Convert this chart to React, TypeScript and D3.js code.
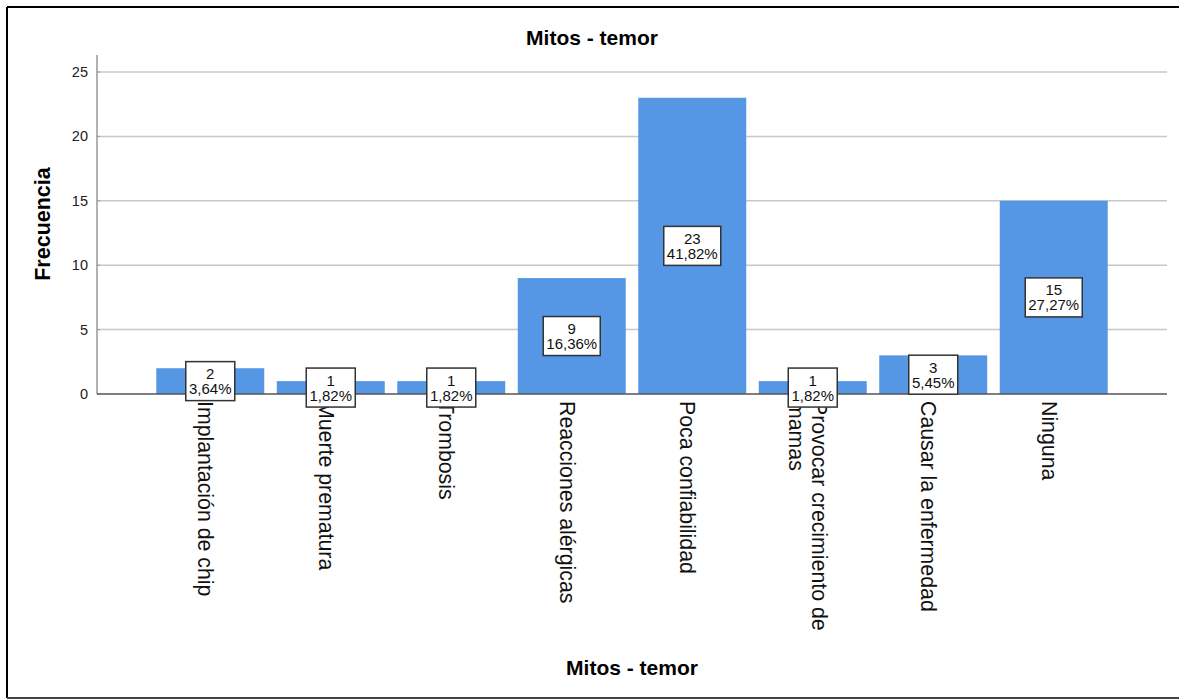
import React from "react";
import * as d3 from "d3";

const categories: string[][] = [
  ["Implantación de chip"],
  ["Muerte prematura"],
  ["Trombosis"],
  ["Reacciones alérgicas"],
  ["Poca confiabilidad"],
  ["Provocar crecimiento de", "mamas"],
  ["Causar la enfermedad"],
  ["Ninguna"],
];
const counts: number[] = [2, 1, 1, 9, 23, 1, 3, 15];
const percents: string[] = ["3,64%", "1,82%", "1,82%", "16,36%", "41,82%", "1,82%", "5,45%", "27,27%"];
const yTicks: number[] = [0, 5, 10, 15, 20, 25];
const title = "Mitos - temor";
const xTitle = "Mitos - temor";
const yTitle = "Frecuencia";

const W = 1179;
const H = 699;
const axisLeft = 97;
const axisRight = 1167;
const y0 = 394;
const y25 = 72;
const axisTop = 55;
const FONT = "'Liberation Sans', Arial, sans-serif";

export default function App() {
  const x = d3
    .scaleBand<number>()
    .domain(d3.range(categories.length))
    .range([axisLeft, axisRight])
    .paddingInner(0.104)
    .paddingOuter(0.492);
  const y = d3.scaleLinear().domain([0, 25]).range([y0, y25]);

  return (
    <svg
      width={W}
      height={H}
      style={{ position: "absolute", left: 0, top: 0, background: "#fff" }}
      fontFamily={FONT}
    >
      <rect x={0} y={0} width={W} height={H} fill="#fff" />
      {/* frame */}
      <line x1={7} y1={7} x2={W} y2={7} stroke="#000" strokeWidth={2} />
      <line x1={7} y1={7} x2={7} y2={698} stroke="#000" strokeWidth={2} />
      <line x1={7} y1={698} x2={W} y2={698} stroke="#444" strokeWidth={2} />

      <text x={592} y={45} textAnchor="middle" fontWeight="bold" fontSize={21} fill="#000">
        {title}
      </text>

      {/* gridlines */}
      {yTicks
        .filter((t) => t > 0)
        .map((t) => (
          <line
            key={"g" + t}
            x1={axisLeft}
            x2={axisRight}
            y1={y(t)}
            y2={y(t)}
            stroke="#c8c8c8"
            strokeWidth={1.5}
          />
        ))}

      {/* y ticks labels */}
      {yTicks.map((t) => (
        <g key={"t" + t}>
          <line x1={axisLeft} x2={axisLeft + 3} y1={y(t)} y2={y(t)} stroke="#999" strokeWidth={1} />
          <text x={88} y={y(t)} dy="0.35em" textAnchor="end" fontSize={14.5} fill="#222">
            {t}
          </text>
        </g>
      ))}

      {/* bars */}
      {counts.map((c, i) => (
        <rect
          key={"b" + i}
          x={x(i)!}
          y={y(c)}
          width={x.bandwidth()}
          height={y(0) - y(c)}
          fill="#5596e5"
        />
      ))}

      {/* axes */}
      <line x1={axisLeft} x2={axisLeft} y1={axisTop} y2={y0} stroke="#999" strokeWidth={1.5} />
      <line x1={axisLeft} x2={axisRight} y1={y0} y2={y0} stroke="#555" strokeWidth={1.5} />

      {/* category labels */}
      {categories.map((lines, i) => {
        const cx = x(i)! + x.bandwidth() / 2 - 5;
        const n = lines.length;
        return (
          <g key={"c" + i} transform={`translate(${cx},401) rotate(90)`}>
            {lines.map((ln, j) => (
              <text
                key={j}
                x={0}
                y={(j - (n - 1) / 2) * 23}
                dominantBaseline="central"
                fontSize={21.3}
                fill="#111"
              >
                {ln}
              </text>
            ))}
          </g>
        );
      })}

      {/* value boxes */}
      {counts.map((c, i) => {
        const cx = x(i)! + x.bandwidth() / 2;
        const cy = (y(c) + y(0)) / 2;
        const bw = percents[i].length > 5 ? 57 : 49;
        return (
          <g key={"l" + i}>
            <rect
              x={cx - bw / 2}
              y={cy - 19.5}
              width={bw}
              height={39}
              fill="#fff"
              stroke="#333"
              strokeWidth={1.5}
            />
            <text x={cx} y={cy - 2} textAnchor="middle" fontSize={15} fill="#111">
              {c}
            </text>
            <text x={cx} y={cy + 13} textAnchor="middle" fontSize={15} fill="#111">
              {percents[i]}
            </text>
          </g>
        );
      })}

      <text
        transform={`translate(50,224) rotate(-90)`}
        textAnchor="middle"
        fontWeight="bold"
        fontSize={21.5}
        fill="#000"
      >
        {yTitle}
      </text>

      <text x={632} y={675} textAnchor="middle" fontWeight="bold" fontSize={21} fill="#000">
        {xTitle}
      </text>
    </svg>
  );
}
